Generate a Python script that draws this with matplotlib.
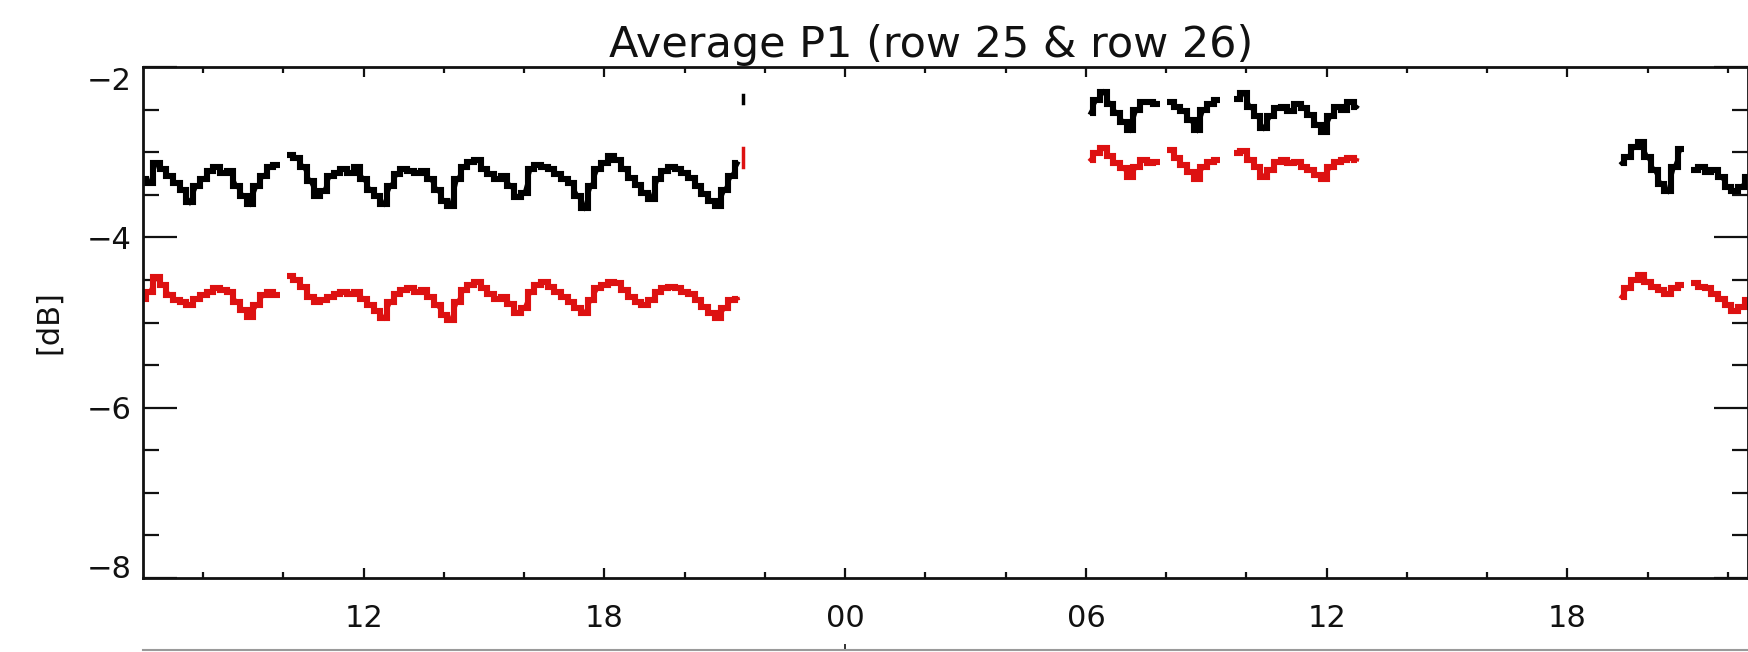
import numpy as np
import matplotlib
matplotlib.use("Agg")
import matplotlib.pyplot as plt
from matplotlib.ticker import FixedLocator, MultipleLocator

# ---------------- data ----------------
title = "Average P1 (row 25 & row 26)"
ylabel = "[dB]"
x_major_ticks = [12, 18, 24, 30, 36, 42]          # hours since day-1 00:00
x_major_labels = ["12", "18", "00", "06", "12", "18"]
y_major_ticks = [-8, -6, -4, -2]
x_range = (6.5, 46.5)
y_range = (-8, -2)
step_h = 1.0 / 6.0                                  # 10-minute samples
nan = np.nan

# segment A (day 1, 06:30 -> 21:20)
seg_a_start = 6.5
seg_a_black = [-3.32, -3.36, -3.13, -3.20, -3.28, -3.36, -3.44, -3.59, -3.40, -3.32,
               -3.22, -3.18, -3.24, -3.22, -3.40, -3.51, -3.61, -3.40, -3.28, -3.18,
               -3.15, nan, -3.03, -3.07, -3.17, -3.34, -3.51, -3.46, -3.28, -3.24,
               -3.20, -3.24, -3.18, -3.32, -3.44, -3.51, -3.61, -3.40, -3.26, -3.20,
               -3.22, -3.24, -3.22, -3.32, -3.44, -3.57, -3.63, -3.32, -3.17, -3.11,
               -3.09, -3.20, -3.26, -3.32, -3.28, -3.40, -3.53, -3.48, -3.20, -3.15,
               -3.17, -3.20, -3.26, -3.32, -3.36, -3.51, -3.65, -3.40, -3.20, -3.13,
               -3.05, -3.09, -3.20, -3.30, -3.38, -3.48, -3.55, -3.32, -3.22, -3.18,
               -3.20, -3.24, -3.30, -3.40, -3.49, -3.57, -3.63, -3.44, -3.28, -3.13]
seg_a_red = [-4.72, -4.64, -4.47, -4.56, -4.68, -4.74, -4.76, -4.80, -4.72, -4.68,
             -4.64, -4.60, -4.62, -4.64, -4.76, -4.85, -4.93, -4.80, -4.68, -4.64,
             -4.68, nan, -4.45, -4.50, -4.58, -4.70, -4.76, -4.74, -4.70, -4.66,
             -4.64, -4.66, -4.64, -4.72, -4.80, -4.87, -4.95, -4.76, -4.66, -4.62,
             -4.60, -4.64, -4.62, -4.70, -4.80, -4.91, -4.97, -4.76, -4.62, -4.56,
             -4.52, -4.60, -4.66, -4.72, -4.70, -4.78, -4.89, -4.83, -4.64, -4.56,
             -4.52, -4.58, -4.64, -4.70, -4.76, -4.83, -4.89, -4.74, -4.60, -4.56,
             -4.52, -4.54, -4.62, -4.70, -4.76, -4.80, -4.74, -4.64, -4.60, -4.58,
             -4.60, -4.64, -4.66, -4.74, -4.82, -4.89, -4.95, -4.83, -4.74, -4.72]
# isolated points at the end of segment A
end_time = 21.45
end_black = [-2.33, -2.42]
end_red = [-2.95, -3.17]

# segment B (day 2, 06:06 -> 12:46)
seg_b_start = 30.1
seg_b_black = [-2.54, -2.39, -2.29, -2.43, -2.54, -2.64, -2.74, -2.50, -2.41, -2.41,
               -2.43, nan, -2.41, -2.47, -2.52, -2.62, -2.74, -2.50, -2.43, -2.39,
               nan, nan, -2.37, -2.31, -2.47, -2.58, -2.72, -2.58, -2.48, -2.47,
               -2.52, -2.43, -2.48, -2.56, -2.68, -2.76, -2.58, -2.47, -2.50, -2.41,
               -2.47]
seg_b_red = [-3.09, -3.01, -2.95, -3.05, -3.13, -3.19, -3.29, -3.17, -3.09, -3.13,
             -3.11, nan, -2.97, -3.07, -3.15, -3.23, -3.31, -3.17, -3.11, -3.09,
             nan, nan, -3.01, -2.99, -3.09, -3.17, -3.29, -3.21, -3.11, -3.09,
             -3.13, -3.11, -3.17, -3.21, -3.27, -3.31, -3.17, -3.11, -3.09, -3.07,
             -3.09]

# segment C (day 2, 19:20 -> edge)
seg_c_start = 43.333
seg_c_black = [-3.13, -3.06, -2.94, -2.88, -3.06, -3.21, -3.37, -3.46, -3.17, -2.96,
               nan, -3.21, -3.17, -3.23, -3.21, -3.29, -3.41, -3.46, -3.41, -3.29]
seg_c_red = [-4.70, -4.60, -4.50, -4.44, -4.52, -4.58, -4.62, -4.66, -4.60, -4.56,
             nan, -4.54, -4.58, -4.60, -4.66, -4.72, -4.80, -4.87, -4.82, -4.74]

segments = [(seg_a_start, seg_a_black, seg_a_red),
            (seg_b_start, seg_b_black, seg_b_red),
            (seg_c_start, seg_c_black, seg_c_red)]

BLACK = "#000000"
RED = "#dd1111"
INK = "#111111"

# ---------------- figure ----------------
W, H = 1749, 652
fig = plt.figure(figsize=(W / 100, H / 100), dpi=100)
fig.patch.set_facecolor("white")
plt.rcParams["font.family"] = ["DejaVu Sans"]

ax_l, ax_r, ax_t, ax_b = 143, 1748, 67, 578
ax = fig.add_axes([ax_l / W, (H - ax_b) / H, (ax_r - ax_l) / W, (ax_b - ax_t) / H])

for start, blk, red in segments:
    t = start + step_h * np.arange(len(blk))
    for vals, col in ((blk, BLACK), (red, RED)):
        ax.plot(t, vals, color=col, lw=4.4, drawstyle="steps-mid",
                solid_joinstyle="miter", solid_capstyle="butt")
        ax.plot(t, vals, color=col, lw=2.4, solid_joinstyle="miter")

ax.plot([end_time, end_time], end_black, color=BLACK, lw=2.5)
ax.plot([end_time, end_time], end_red, color=RED, lw=2.5)

ax.set_xlim(*x_range)
ax.set_ylim(*y_range)

ax.xaxis.set_major_locator(FixedLocator(x_major_ticks))
ax.set_xticklabels(x_major_labels)
ax.xaxis.set_minor_locator(MultipleLocator(2))
ax.yaxis.set_major_locator(FixedLocator(y_major_ticks))
ax.yaxis.set_minor_locator(MultipleLocator(0.5))
ax.set_yticklabels([f"\u2212{abs(v)}" for v in y_major_ticks])

for s in ax.spines.values():
    s.set_linewidth(2.0)
    s.set_color(INK)

ax.tick_params(which="both", direction="in", top=True, right=True,
               color=INK, labelsize=22, labelcolor=INK)
ax.xaxis.set_tick_params(which="major", length=7.5, width=1.6, pad=19)
ax.xaxis.set_tick_params(which="minor", length=4.0, width=1.6)
ax.yaxis.set_tick_params(which="major", length=24.5, width=1.6, pad=8)
ax.yaxis.set_tick_params(which="minor", length=11.5, width=1.6)

yt = ax.yaxis.get_major_ticks()
yt[0].label1.set_verticalalignment("baseline")   # -8
yt[-1].label1.set_verticalalignment("top")       # -2

ax.set_ylabel(ylabel, fontsize=22, color=INK)
ax.yaxis.set_label_coords((63 - ax_l) / (ax_r - ax_l), 0.5)
ax.set_title(title, fontsize=31, color=INK, pad=7, x=0.491)

# top edge of the next panel, visible at the bottom of the image
ax2 = fig.add_axes([ax_l / W, 0.0, (ax_r - ax_l) / W, 2.0 / H])
ax2.set_xlim(*x_range)
ax2.set_ylim(0, 1)
for k in ["left", "right", "bottom"]:
    ax2.spines[k].set_visible(False)
ax2.spines["top"].set_color("#9a9a9a")
ax2.spines["top"].set_linewidth(1.5)
ax2.set_yticks([])
ax2.xaxis.set_major_locator(FixedLocator([24]))
ax2.tick_params(axis="x", bottom=False, top=True, labelbottom=False, labeltop=False,
                direction="out", length=4, width=1.4, color="#333333")
ax2.patch.set_alpha(0)

fig.savefig("out.png", dpi=100, facecolor="white")
